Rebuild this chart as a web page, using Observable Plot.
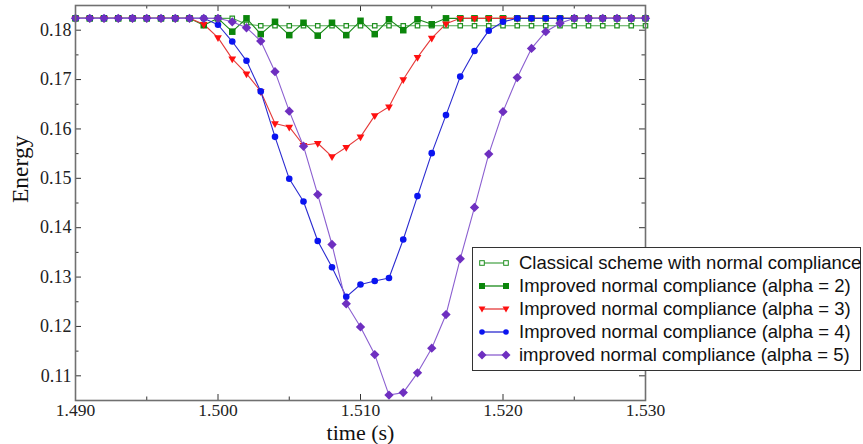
<!DOCTYPE html>
<html>
<head>
<meta charset="utf-8">
<script src="https://cdn.jsdelivr.net/npm/d3@7"></script>
<script src="https://cdn.jsdelivr.net/npm/@observablehq/plot@0.6"></script>
<style>
  html, body { margin: 0; padding: 0; background: #fff; overflow: hidden; }
  #wrap { position: relative; width: 863px; height: 444px; }
  #legend {
    position: absolute; left: 472px; top: 247px; width: 389px; height: 124px;
    background: #fff; border: 1px solid #333; box-sizing: border-box;
    font-family: "Liberation Sans", Arial, sans-serif; font-size: 18.5px; color: #111;
  }
  #legend .row { position: absolute; left: 0; height: 23px; display: flex; align-items: center; white-space: nowrap; }
  #legend svg { margin-left: 4px; margin-right: 8px; }
  svg.plot text { font-family: "Liberation Serif", "Times New Roman", serif; }
</style>
</head>
<body>
<div id="wrap"></div>
<script>
// ---- data ----
const time = [1.490,1.491,1.492,1.493,1.494,1.495,1.496,1.497,1.498,1.499,
              1.500,1.501,1.502,1.503,1.504,1.505,1.506,1.507,1.508,1.509,
              1.510,1.511,1.512,1.513,1.514,1.515,1.516,1.517,1.518,1.519,
              1.520,1.521,1.522,1.523,1.524,1.525,1.526,1.527,1.528,1.529,1.530];

const classical = [0.1824,0.1824,0.1824,0.1824,0.1824,0.1824,0.1824,0.1824,0.1824,0.1824,
                   0.1824,0.1824,0.1812,0.1809,0.1809,0.1809,0.1809,0.1809,0.1809,0.1809,
                   0.1809,0.1809,0.1809,0.1809,0.1809,0.1809,0.1809,0.1809,0.1809,0.1809,
                   0.1809,0.1809,0.1809,0.1809,0.1809,0.1809,0.1809,0.1809,0.1809,0.1809,0.1809];

const alpha2 = [0.1824,0.1824,0.1824,0.1824,0.1824,0.1824,0.1824,0.1824,0.1824,0.1810,
                0.1824,0.1797,0.1824,0.1792,0.1817,0.1790,0.1815,0.1789,0.1815,0.1790,
                0.1819,0.1792,0.1822,0.1800,0.1822,0.1812,0.1824,0.1824,0.1824,0.1824,
                0.1824,0.1824,0.1824,0.1824,0.1824,0.1824,0.1824,0.1824,0.1824,0.1824,0.1824];

const alpha3 = [0.1824,0.1824,0.1824,0.1824,0.1824,0.1824,0.1824,0.1824,0.1824,0.1812,
                0.1785,0.1742,0.1712,0.1676,0.1611,0.1604,0.1567,0.1571,0.1544,0.1563,
                0.1584,0.1627,0.1645,0.1700,0.1745,0.1784,0.1813,0.1824,0.1824,0.1824,
                0.1824,0.1824,0.1824,0.1824,0.1824,0.1824,0.1824,0.1824,0.1824,0.1824,0.1824];

const alpha4 = [0.1824,0.1824,0.1824,0.1824,0.1824,0.1824,0.1824,0.1824,0.1824,0.1824,
                0.1811,0.1777,0.1738,0.1676,0.1584,0.1499,0.1453,0.1373,0.1320,0.1260,
                0.1285,0.1292,0.1298,0.1376,0.1464,0.1551,0.1628,0.1706,0.1758,0.1799,
                0.1817,0.1824,0.1824,0.1824,0.1824,0.1824,0.1824,0.1824,0.1824,0.1824,0.1824];

const alpha5 = [0.1824,0.1824,0.1824,0.1824,0.1824,0.1824,0.1824,0.1824,0.1824,0.1824,
                0.1824,0.1817,0.1805,0.1778,0.1716,0.1636,0.1565,0.1467,0.1366,0.1246,
                0.1199,0.1143,0.1061,0.1066,0.1106,0.1156,0.1224,0.1337,0.1441,0.1549,
                0.1635,0.1704,0.1763,0.1797,0.1814,0.1824,0.1824,0.1824,0.1824,0.1824,0.1824];

const seriesNames = [
  "Classical scheme with normal compliance",
  "Improved normal compliance (alpha = 2)",
  "Improved normal compliance (alpha = 3)",
  "Improved normal compliance (alpha = 4)",
  "improved normal compliance (alpha = 5)"
];

const xMajor = [1.490, 1.500, 1.510, 1.520, 1.530];
const xMinor = [1.495, 1.505, 1.515, 1.525];
const yMajor = [0.11, 0.12, 0.13, 0.14, 0.15, 0.16, 0.17, 0.18];
const yMinor = [0.105, 0.115, 0.125, 0.135, 0.145, 0.155, 0.165, 0.175, 0.185];

// ---- layout / style ----
const W = 863, H = 444;
const mL = 75, mR = 218, mT = 5, mB = 44;
const pw = W - mL - mR, ph = H - mT - mB;
const serif = "Liberation Serif";

const rows = time.map((t, i) => ({t, c: classical[i], a2: alpha2[i], a3: alpha3[i], a4: alpha4[i], a5: alpha5[i]}));

const st = {
  c:  {line: "#4fa84f", stroke: "#1f8f1f", fill: "#fff", symbol: "square", r: 2.5, rotate: 0},
  a2: {line: "#1a8a1a", stroke: "none", fill: "#0b860b", symbol: "square", r: 3.7, rotate: 0},
  a3: {line: "#e53a3a", stroke: "none", fill: "#ff1010", symbol: "triangle", r: 2.9, rotate: 180},
  a4: {line: "#2a2ad0", stroke: "none", fill: "#0a14f0", symbol: "circle", r: 3.3, rotate: 0},
  a5: {line: "#8b5fd0", stroke: "none", fill: "#6e2fc0", symbol: "diamond2", r: 4.2, rotate: 0}
};
const keys = ["c", "a2", "a3", "a4", "a5"];

const marks = [];
for (const k of keys) {
  marks.push(Plot.line(rows, {x: "t", y: k, stroke: st[k].line, strokeWidth: 1.1}));
}
for (const k of keys) {
  marks.push(Plot.dot(rows, {x: "t", y: k, symbol: st[k].symbol, r: st[k].r, fill: st[k].fill,
    stroke: st[k].stroke, strokeWidth: 1.2, rotate: st[k].rotate}));
}

// inward ticks on all four sides
const tickCol = "#333";
marks.push(
  Plot.tickY(yMajor, {y: d => d, stroke: tickCol, insetRight: pw - 6}),
  Plot.tickY(yMinor, {y: d => d, stroke: tickCol, insetRight: pw - 3.5}),
  Plot.tickY(yMajor, {y: d => d, stroke: tickCol, insetLeft: pw - 6}),
  Plot.tickY(yMinor, {y: d => d, stroke: tickCol, insetLeft: pw - 3.5}),
  Plot.tickX(xMajor, {x: d => d, stroke: tickCol, insetTop: ph - 6}),
  Plot.tickX(xMinor, {x: d => d, stroke: tickCol, insetTop: ph - 3.5}),
  Plot.tickX(xMajor, {x: d => d, stroke: tickCol, insetBottom: ph - 6}),
  Plot.tickX(xMinor, {x: d => d, stroke: tickCol, insetBottom: ph - 3.5}),
  Plot.frame({stroke: "#707070", strokeWidth: 1.6}),
  Plot.axisX({ticks: xMajor, tickFormat: d3.format(".3f"), tickSize: 0, tickPadding: 3, label: null,
    fontSize: 17.5, fontFamily: serif, fill: "#222"}),
  Plot.axisY({ticks: yMajor, tickFormat: d3.format(".2f"), tickSize: 0, tickPadding: 4, label: null,
    fontSize: 18, fontFamily: serif, fill: "#222"}),
  Plot.text(["Energy"], {frameAnchor: "left", dx: -55, rotate: -90, fontSize: 23.5, fontFamily: serif, fill: "#111"}),
  Plot.text(["time (s)"], {frameAnchor: "bottom", lineAnchor: "middle", dy: 32.5, fontSize: 22, fontFamily: serif, fill: "#111"})
);

const chart = Plot.plot({
  width: W, height: H,
  marginLeft: mL, marginRight: mR, marginTop: mT, marginBottom: mB,
  x: {domain: [1.490, 1.530]},
  y: {domain: [0.105, 0.185]},
  style: {fontFamily: serif, fontSize: "18px", color: "#222", background: "#fff", overflow: "visible"},
  marks
});
const wrap = document.getElementById("wrap");
wrap.appendChild(chart);

// legend
const legend = document.createElement("div");
legend.id = "legend";
const sym = {
  c:  (x, y) => `<rect x="${x-2.3}" y="${y-2.3}" width="4.6" height="4.6" fill="#fff" stroke="#1f8f1f" stroke-width="1"/>`,
  a2: (x, y) => `<rect x="${x-3}" y="${y-3}" width="6" height="6" fill="#0b860b"/>`,
  a3: (x, y) => `<path d="M${x-3.5},${y-2.5}L${x+3.5},${y-2.5}L${x},${y+3.5}Z" fill="#ff1010"/>`,
  a4: (x, y) => `<circle cx="${x}" cy="${y}" r="2.8" fill="#0a14f0"/>`,
  a5: (x, y) => `<path d="M${x},${y-4.5}L${x+4.5},${y}L${x},${y+4.5}L${x-4.5},${y}Z" fill="#6e2fc0"/>`
};
keys.forEach((k, i) => {
  const row = document.createElement("div");
  row.className = "row";
  row.style.top = (3 + i * 23.2) + "px";
  row.innerHTML = `<svg width="34" height="14" viewBox="0 0 34 14"><line x1="5" y1="7" x2="29" y2="7" stroke="${st[k].line}" stroke-width="1.3"/>${sym[k](5,7)}${sym[k](29,7)}</svg><span>${seriesNames[i]}</span>`;
  legend.appendChild(row);
});
wrap.appendChild(legend);
</script>
</body>
</html>
